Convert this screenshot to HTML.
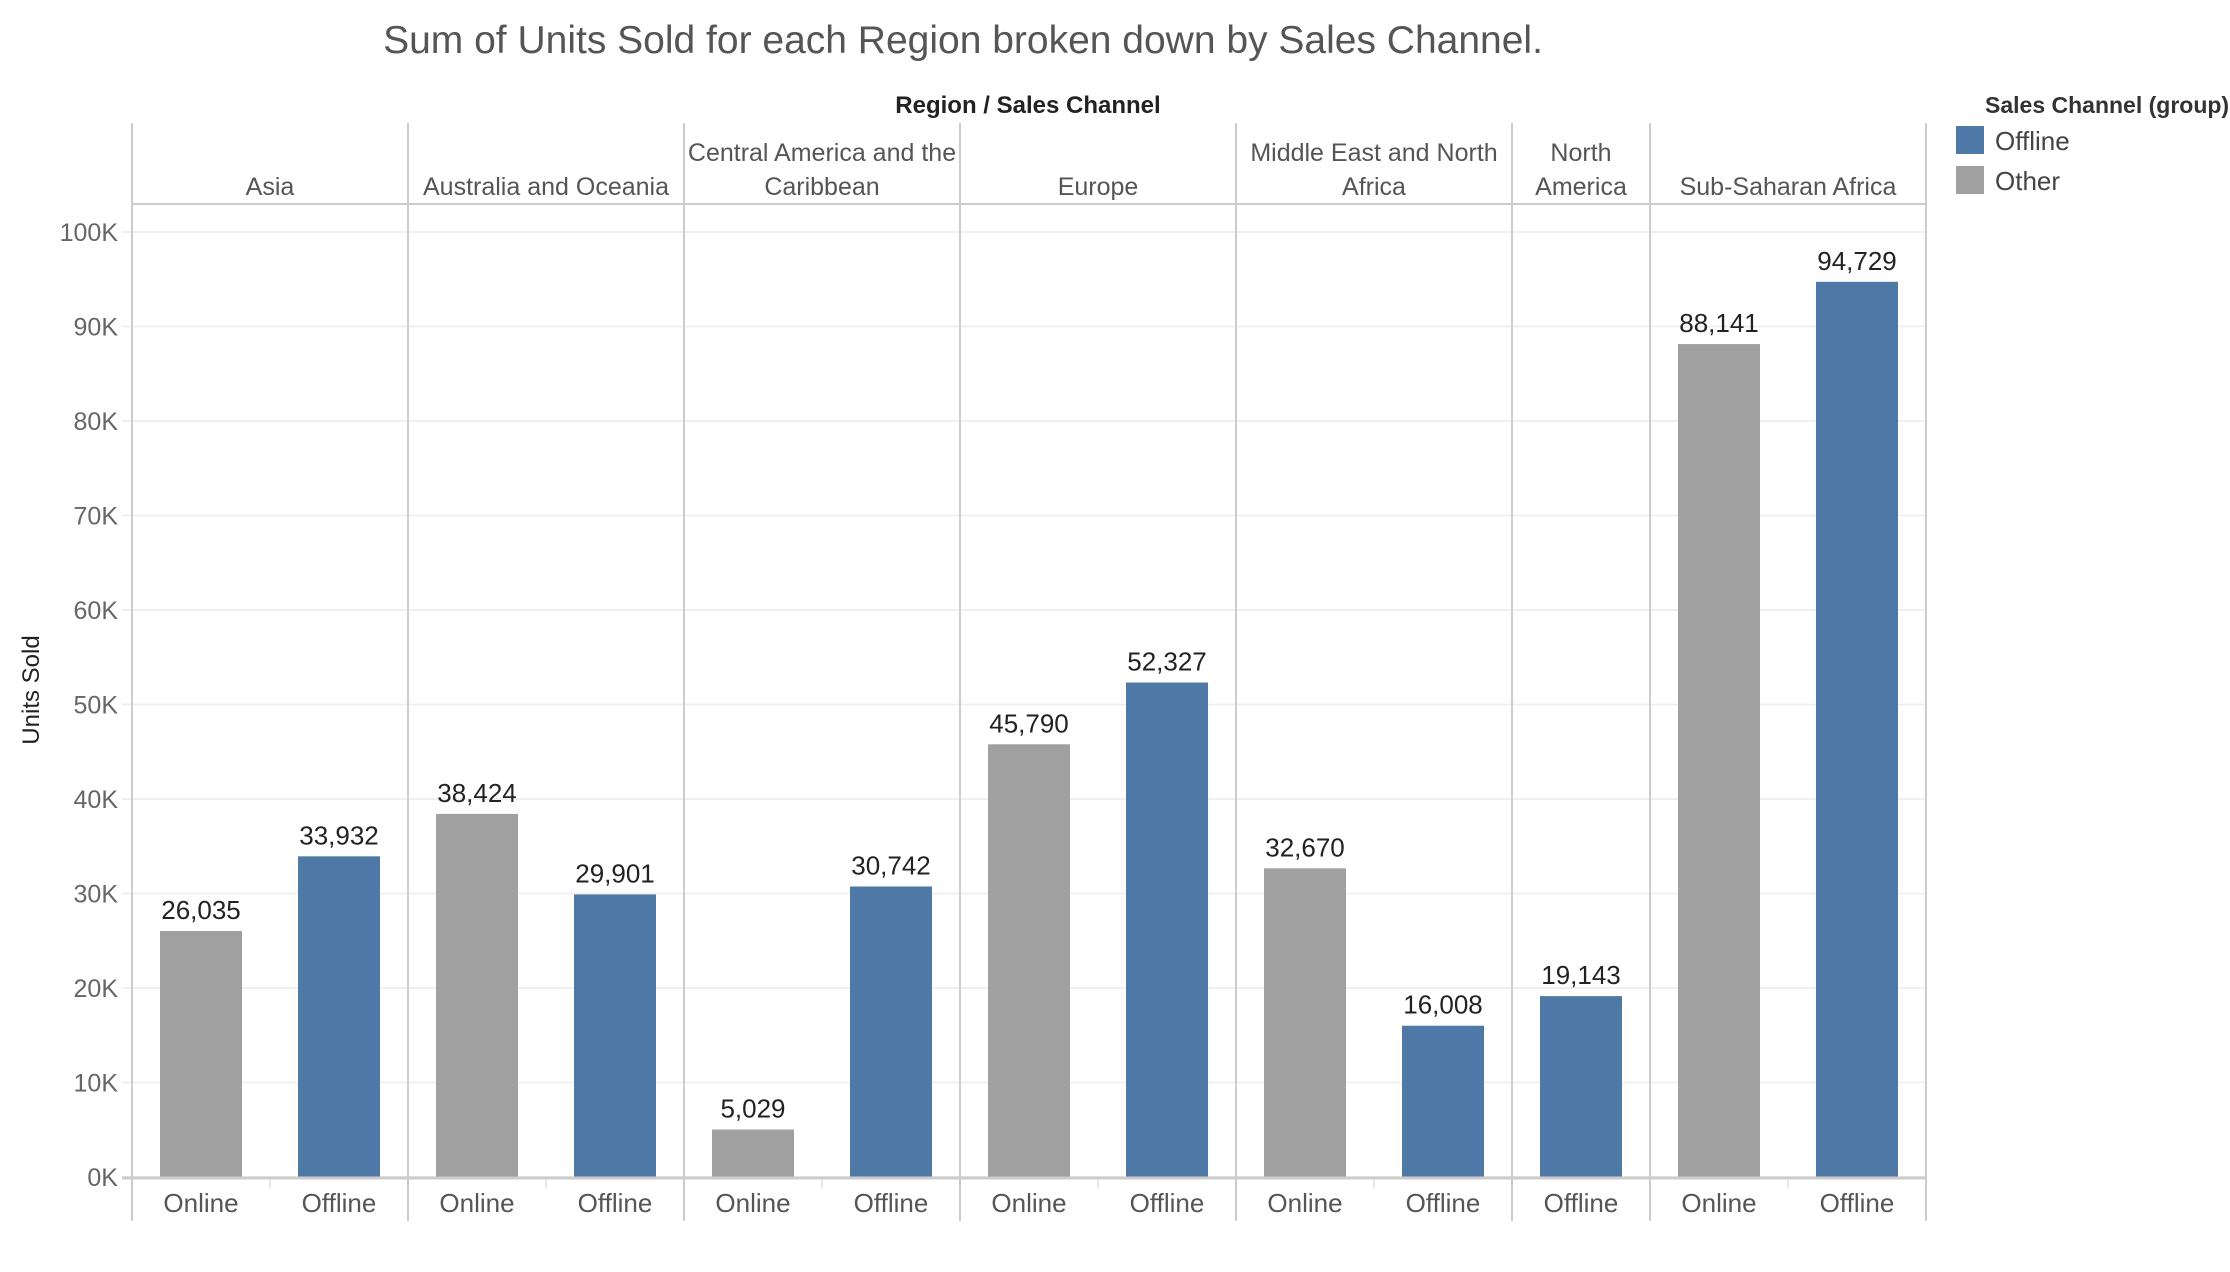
<!DOCTYPE html>
<html><head><meta charset="utf-8"><style>
body{margin:0;background:#fff;}
svg{display:block;font-family:"Liberation Sans",sans-serif;}
</style></head><body>
<svg id="chart" width="2230" height="1272" viewBox="0 0 2230 1272" xmlns="http://www.w3.org/2000/svg">
<text x="963" y="53" text-anchor="middle" font-size="39" fill="#555">Sum of Units Sold for each Region broken down by Sales Channel.</text>
<text x="1028" y="113" text-anchor="middle" font-size="24" font-weight="bold" fill="#222">Region  /  Sales Channel</text>
<text transform="translate(39,690) rotate(-90)" text-anchor="middle" font-size="24" fill="#222">Units Sold</text>
<g>
<text x="1985" y="113" font-size="23" font-weight="bold" fill="#333">Sales Channel (group)</text>
<rect x="1956" y="126" width="28" height="28" fill="#4e79a7"/>
<text x="1995" y="150" font-size="26" fill="#444">Offline</text>
<rect x="1956" y="166" width="28" height="28" fill="#a0a0a0"/>
<text x="1995" y="190" font-size="26" fill="#444">Other</text>
</g>
<g id="plot"></g>
</svg>
<script>
const regions = [["Asia"],["Australia and Oceania"],["Central America and the","Caribbean"],["Europe"],["Middle East and North","Africa"],["North","America"],["Sub-Saharan Africa"]];
const onlineValues = [26035, 38424, 5029, 45790, 32670, null, 88141];
const offlineValues = [33932, 29901, 30742, 52327, 16008, 19143, 94729];
const yTicks = [0,10000,20000,30000,40000,50000,60000,70000,80000,90000,100000];
const yTickLabels = ["0K","10K","20K","30K","40K","50K","60K","70K","80K","90K","100K"];

const NS="http://www.w3.org/2000/svg";
const g=document.getElementById('plot');
const X0=132, X1=1926, SLOT=138, BAR=82, TOP=123, HDR=204, BASE=1177, BOT=1221;
const y=v=>BASE - v*(945/100000);
function mk(tag,attrs,text){const e=document.createElementNS(NS,tag);for(const k in attrs)e.setAttribute(k,attrs[k]);if(text!==undefined)e.textContent=text;g.appendChild(e);return e;}
function fmt(v){return v.toLocaleString('en-US');}

yTicks.forEach((t,i)=>{
  const l=mk('line',{x1:122,x2:X1,y1:y(t),y2:y(t),stroke:'#f0f0f0','stroke-width':2});
  
  
  const tx=mk('text',{x:118,y:y(t)+9,'text-anchor':'end','font-size':25,fill:'#666'},yTickLabels[i]);
  
  
});

let x=X0;
regions.forEach((r,i)=>{
  const cats=[];
  if(onlineValues[i]!==null) cats.push(['Online',onlineValues[i],'#a0a0a0']);
  cats.push(['Offline',offlineValues[i],'#4e79a7']);
  const w=cats.length*SLOT;
  const cx=x+w/2;
  r.forEach((line,j)=>{
    const yy = r.length===1 ? 195 : 161+j*34;
    const h=mk('text',{x:cx,y:yy,'text-anchor':'middle','font-size':25,fill:'#555'},line);
    
    
  });
  cats.forEach((c,k)=>{
    const sx=x+k*SLOT+SLOT/2;
    const b=mk('rect',{x:sx-BAR/2,y:y(c[1]),width:BAR,height:BASE-y(c[1]),fill:c[2]});
    
    
    const lb=mk('text',{x:sx,y:y(c[1])-12,'text-anchor':'middle','font-size':26,fill:'#222'},fmt(c[1]));
    
    
    const cl=mk('text',{x:sx,y:1212,'text-anchor':'middle','font-size':26,fill:'#555'},c[0]);
    
    
    if(k>0){const tk=mk('line',{x1:x+k*SLOT,x2:x+k*SLOT,y1:1180,y2:1188,stroke:'#e6e6e6','stroke-width':2});
      
      }
  });
  x+=w;
  const d=mk('line',{x1:x,x2:x,y1:TOP,y2:BOT,stroke:'#cccccc','stroke-width':2});
  
  
});
const a1=mk('line',{x1:X0,x2:X0,y1:TOP,y2:BOT,stroke:'#cccccc','stroke-width':2});


const a2=mk('line',{x1:X0,x2:X1,y1:HDR,y2:HDR,stroke:'#cccccc','stroke-width':2});


const a3=mk('line',{x1:122,x2:X1,y1:BASE+1,y2:BASE+1,stroke:'#cccccc','stroke-width':3});


</script>
</body></html>
